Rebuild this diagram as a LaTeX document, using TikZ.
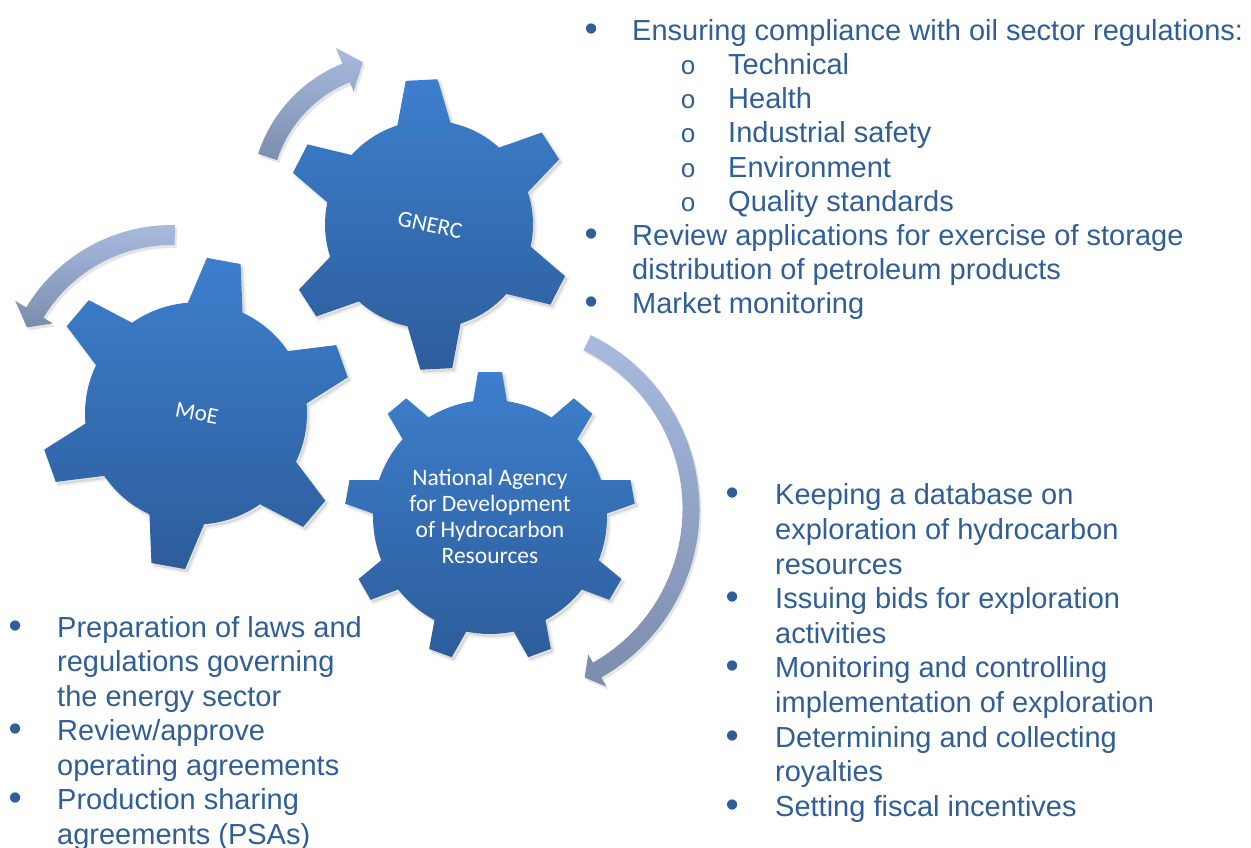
\documentclass[tikz,border=0pt]{standalone}
\usepackage{fontspec}
\usepackage{graphicx}
\setmainfont{Liberation Sans}
\newfontfamily\gearfont{Carlito}
\newfontfamily\subbulletfont{Liberation Mono}

\definecolor{listblue}{HTML}{2F5E98}
\definecolor{gearTop}{HTML}{3D7FCD}
\definecolor{gearBot}{HTML}{2D5D9B}
\definecolor{arrowTop}{HTML}{A8BBDF}
\definecolor{arrowBot}{HTML}{7C8CAD}

% gear outline around the origin:
% #1 body radius, #2 tip radius, #3 teeth, #4 angle of first tooth,
% #5 half angle at the tooth base, #6 half angle at the tooth tip
\newcommand\gearpath[6]{%
  ({#4-#5}:#1pt)
  \foreach \gi in {1,...,#3}{
    -- ({#4+(\gi-1)*360/#3-#6}:#2pt)
    -- ({#4+(\gi-1)*360/#3+#6}:#2pt)
    -- ({#4+(\gi-1)*360/#3+#5}:#1pt)
    arc[start angle={#4+(\gi-1)*360/#3+#5}, end angle={#4+\gi*360/#3-#5}, radius=#1pt]
  } -- cycle}

% curved block arrow around the origin:
% #1 outer radius, #2 inner radius, #3 tail angle, #4 head base angle,
% #5 outer barb radius, #6 inner barb radius, #7 tip angle, #8 tip radius
\newcommand\arcarrow[8]{%
  (#3:#1pt) arc[start angle=#3, end angle=#4, radius=#1pt]
  -- (#4:#5pt) -- (#7:#8pt) -- (#4:#6pt) -- (#4:#2pt)
  arc[start angle=#4, end angle=#3, radius=#2pt] -- cycle}

% list lines: bullet at the line origin, text further right
\newcommand\bul{\makebox[0pt][c]{\raisebox{-1pt}{\scalebox{1.3}{\textbullet}}}}
\newcommand\Li[2]{\hbox{\bul\hspace{#1}#2}}
\newcommand\Lc[2]{\hbox{\hspace{#1}#2}}
\newcommand\Ls[3]{\hbox{\hspace{#1}\makebox[0pt][c]{\subbulletfont\fontsize{26}{26}\selectfont o}\hspace{#2}#3}}

\begin{document}
\begin{tikzpicture}[x=1pt,y=1pt,
  gearfill/.style={top color=gearTop, bottom color=gearBot},
  arrowfill/.style={top color=arrowTop, bottom color=arrowBot},
  shadowfill/.style={fill=black, opacity=0.10},
  shadowedge/.style={draw=black, opacity=0.05, line width=4pt, line join=round},
  geartext/.style={text=white, inner sep=0pt},
  listtext/.style={text=listblue, inner sep=0pt, anchor=base west,
    font=\fontsize{29}{34}\selectfont}]

\useasboundingbox (0,0) rectangle (1251,848);
\fill[white] (0,0) rectangle (1251,848);

% ---- rotation arrows ----
\fill[shadowfill, shift={(399,646)}] \arcarrow{146}{126}{162}{112}{163}{116}{104}{141};
\shade[arrowfill, shift={(397,649)}] \arcarrow{146}{126}{162}{112}{163}{116}{104}{141};

\fill[shadowfill, shift={(174,450)}] \arcarrow{170}{150}{89}{149}{183}{139}{155}{160};
\shade[arrowfill, shift={(172,453)}] \arcarrow{170}{150}{89}{149}{183}{139}{155}{160};

\fill[shadowfill, shift={(508,336)}] \arcarrow{193.5}{176.5}{64}{-60.5}{204}{167}{-65}{186};
\shade[arrowfill, shift={(506,339)}] \arcarrow{193.5}{176.5}{64}{-60.5}{204}{167}{-65}{186};

% ---- gears ----
% MoE
\fill[shadowfill, shift={(198.5,431.5)}] \gearpath{111}{156}{6}{79.7}{14.5}{6.3};
\draw[shadowedge, shift={(198.5,431.5)}] \gearpath{111}{156}{6}{79.7}{14.5}{6.3};
\shade[gearfill, shift={(196,434.5)}] \gearpath{111}{156}{6}{79.7}{14.5}{6.3};
% GNERC
\fill[shadowfill, shift={(431.5,620.5)}] \gearpath{104}{145.5}{6}{92.9}{14.8}{6.3};
\draw[shadowedge, shift={(431.5,620.5)}] \gearpath{104}{145.5}{6}{92.9}{14.8}{6.3};
\shade[gearfill, shift={(429,623.5)}] \gearpath{104}{145.5}{6}{92.9}{14.8}{6.3};
% National Agency
\fill[shadowfill, shift={(492.5,328)}] \gearpath{117}{145.3}{9}{90}{8.3}{4.75};
\draw[shadowedge, shift={(492.5,328)}] \gearpath{117}{145.3}{9}{90}{8.3}{4.75};
\shade[gearfill, shift={(490,331)}] \gearpath{117}{145.3}{9}{90}{8.3}{4.75};

% ---- gear labels ----
\node[geartext, rotate=-12, font=\gearfont\fontsize{23}{27}\selectfont] (gnerc) at (430,623) {GNERC};
\node[geartext, rotate=-11, font=\gearfont\fontsize{23}{27}\selectfont] (moe) at (197,435) {MoE};
\node[geartext, align=center, font=\gearfont\fontsize{23.5}{26}\selectfont] (nadhr) at (490,332)
  {National Agency\\for Development\\of Hydrocarbon\\Resources};

% ---- task lists ----
\node[listtext] (gnercTasks) at (591,807.3) {\vtop{\baselineskip=34.1pt\lineskiplimit=-100pt\lineskip=0pt
  \Li{41pt}{Ensuring compliance with oil sector regulations:}
  \Ls{97pt}{40pt}{Technical}
  \Ls{97pt}{40pt}{Health}
  \Ls{97pt}{40pt}{Industrial safety}
  \Ls{97pt}{40pt}{Environment}
  \Ls{97pt}{40pt}{Quality standards}
  \Li{41pt}{Review applications for exercise of storage}
  \Lc{41pt}{distribution of petroleum products}
  \Li{41pt}{Market monitoring}}};

\node[listtext] (agencyTasks) at (732,343) {\vtop{\baselineskip=34.6pt\lineskiplimit=-100pt\lineskip=0pt
  \Li{43pt}{Keeping a database on}
  \Lc{43pt}{exploration of hydrocarbon}
  \Lc{43pt}{resources}
  \Li{43pt}{Issuing bids for exploration}
  \Lc{43pt}{activities}
  \Li{43pt}{Monitoring and controlling}
  \Lc{43pt}{implementation of exploration}
  \Li{43pt}{Determining and collecting}
  \Lc{43pt}{royalties}
  \Li{43pt}{Setting fiscal incentives}}};

\node[listtext] (moeTasks) at (15,210.7) {\vtop{\baselineskip=34.5pt\lineskiplimit=-100pt\lineskip=0pt
  \Li{42pt}{Preparation of laws and}
  \Lc{42pt}{regulations governing}
  \Lc{42pt}{the energy sector}
  \Li{42pt}{Review/approve}
  \Lc{42pt}{operating agreements}
  \Li{42pt}{Production sharing}
  \Lc{42pt}{agreements (PSAs)}}};
\end{tikzpicture}
\end{document}
